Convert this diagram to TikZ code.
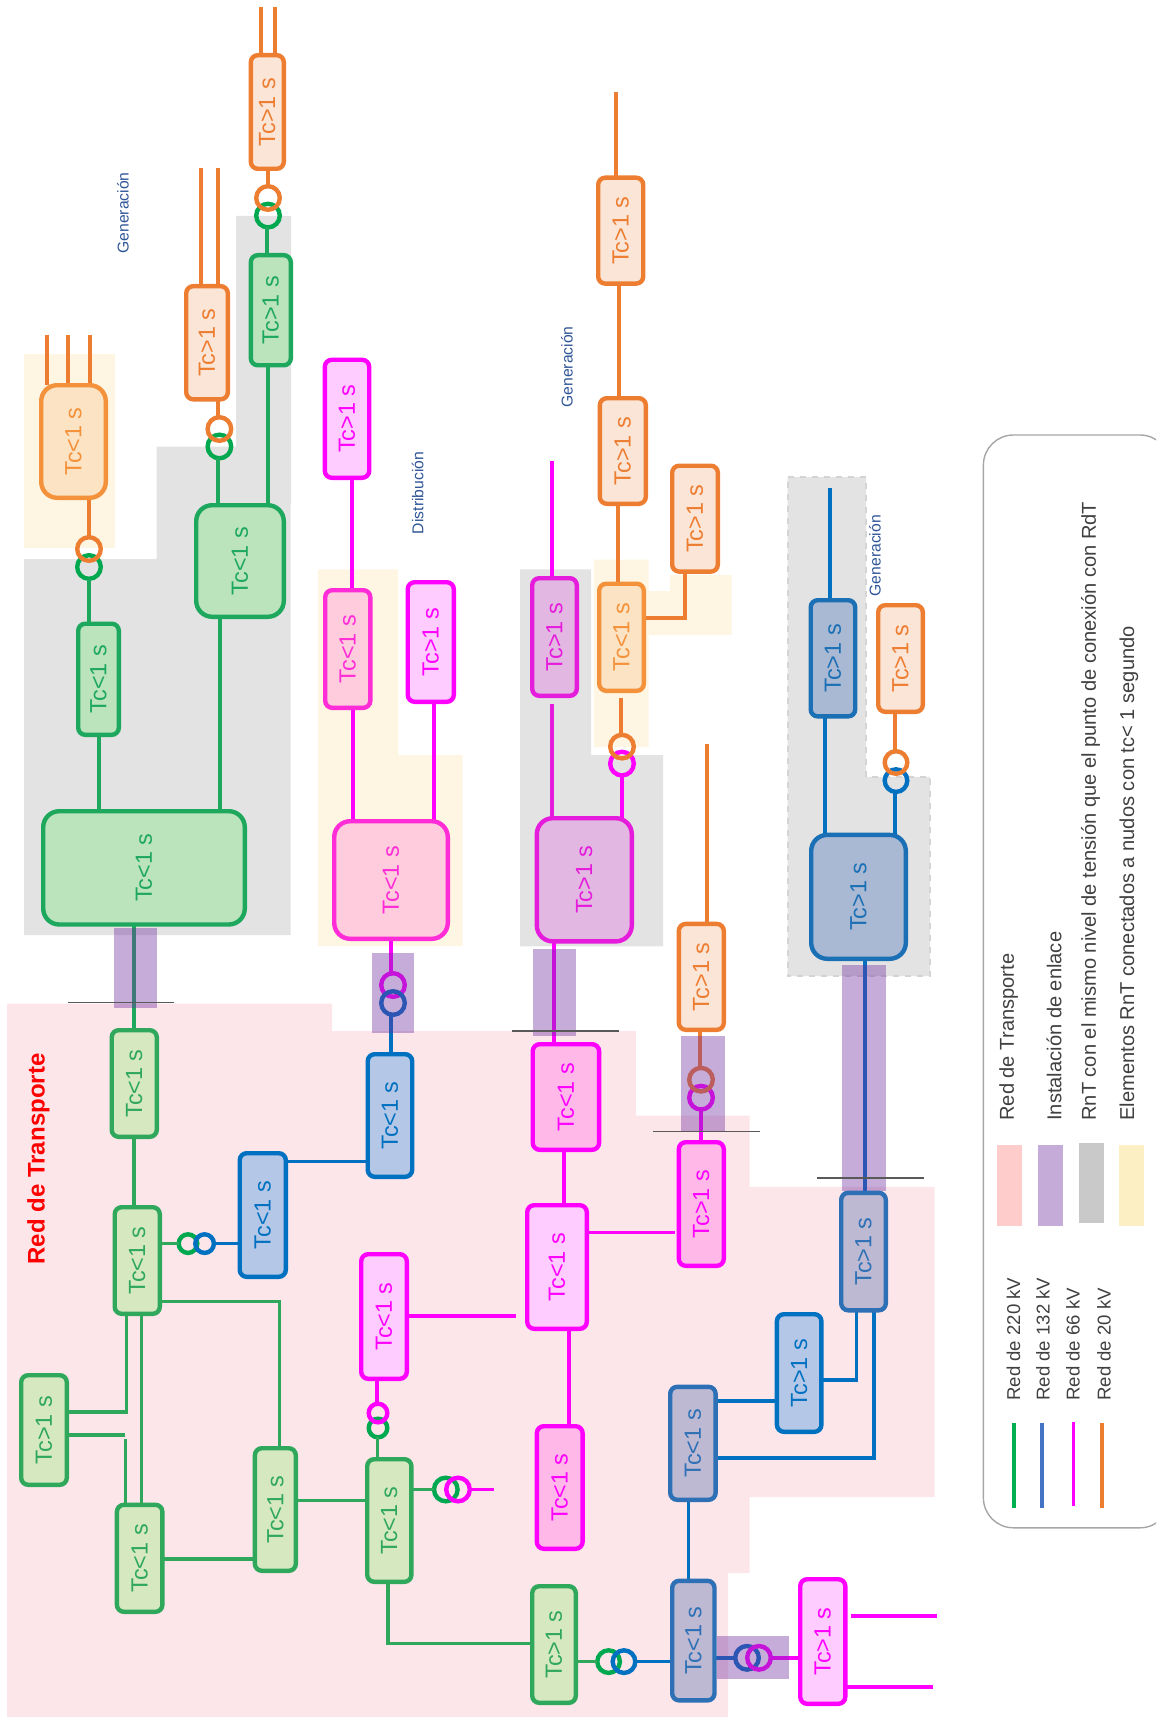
\documentclass[tikz,border=0pt]{standalone}
\usepackage{graphicx}
\usepackage{fontspec}
\setmainfont{Liberation Sans}
\pgfdeclarelayer{bg}\pgfdeclarelayer{conn}\pgfdeclarelayer{over}
\pgfsetlayers{bg,conn,over,main}
\definecolor{cgreen}{HTML}{1EA85E}\definecolor{cgreenb}{HTML}{2FA85C}
\definecolor{corange}{HTML}{ED7D31}\definecolor{coranb}{HTML}{F4923B}
\definecolor{cmag}{HTML}{FF00FF}\definecolor{cmagb}{HTML}{FF2CD8}\definecolor{cmagc}{HTML}{E61CDC}
\definecolor{cblue}{HTML}{0070C0}\definecolor{cblueb}{HTML}{2E70B5}\definecolor{cbluec}{HTML}{1B70B5}
\definecolor{cpink}{HTML}{FCE6EA}\definecolor{cgray}{HTML}{E3E3E3}\definecolor{cyel}{HTML}{FEF6E2}
\definecolor{cgrayd}{HTML}{D4D4D4}
\definecolor{cpurp}{HTML}{7030A0}\definecolor{clab}{HTML}{2F5597}
\definecolor{fgA}{HTML}{BBE4BC}\definecolor{fgB}{HTML}{D5E8C0}\definecolor{foA}{HTML}{FBE5D6}\definecolor{foB}{HTML}{FBE3C4}
\definecolor{fmA}{HTML}{FFCCFF}\definecolor{fmB}{HTML}{FFCCDD}\definecolor{fmC}{HTML}{E2B8E2}\definecolor{fmD}{HTML}{FFB8E8}
\definecolor{fbA}{HTML}{B4C7E7}\definecolor{fbB}{HTML}{BDB9D3}\definecolor{fbC}{HTML}{A9B8D3}
\definecolor{rgreen}{HTML}{00A850}\definecolor{cbar}{HTML}{595959}\definecolor{ctxt}{HTML}{404040}
\definecolor{cedge}{HTML}{A6A6A6}\definecolor{lg}{HTML}{00B050}\definecolor{lb}{HTML}{4472C4}
\definecolor{s1}{HTML}{FFCCCC}\definecolor{s2}{HTML}{C5ACD8}\definecolor{s3}{HTML}{C9C9C9}\definecolor{s4}{HTML}{FDEFC4}
\tikzset{
 basebox/.style={rectangle,rounded corners=3.5pt,line width=2.2pt,inner sep=0pt,outer sep=0pt,font=\fontsize{11.7}{14}\selectfont},
 bigbox/.style={rounded corners=8pt},
 boxgA/.style={basebox,draw=cgreen,fill=fgA,text=cgreen},
 boxgB/.style={basebox,draw=cgreenb,fill=fgB,text=cgreenb},
 boxoA/.style={basebox,draw=corange,fill=foA,text=corange},
 boxoB/.style={basebox,draw=coranb,fill=foB,text=coranb},
 boxmA/.style={basebox,draw=cmag,fill=fmA,text=cmag},
 boxmB/.style={basebox,draw=cmagb,fill=fmB,text=cmagb},
 boxmC/.style={basebox,draw=cmagc,fill=fmC,text=cmagc},
 boxmD/.style={basebox,draw=cmag,fill=fmD,text=cmag},
 boxbA/.style={basebox,draw=cblue,fill=fbA,text=cblue},
 boxbB/.style={basebox,draw=cblueb,fill=fbB,text=cblueb},
 boxbC/.style={basebox,draw=cbluec,fill=fbC,text=cbluec},
 wg/.style={draw=cgreen,line width=2pt},
 wgb/.style={draw=cgreenb,line width=1.7pt},
 wo/.style={draw=corange,line width=2pt},
 wm/.style={draw=cmag,line width=2pt},
 wb/.style={draw=cblue,line width=1.7pt},
 ringg/.style={circle,draw=rgreen,inner sep=0pt,outer sep=0pt,line width=2.2pt},
 ringo/.style={circle,draw=corange,inner sep=0pt,outer sep=0pt,line width=2.2pt},
 ringm/.style={circle,draw=cmag,inner sep=0pt,outer sep=0pt,line width=2.2pt},
 ringb/.style={circle,draw=cblue,inner sep=0pt,outer sep=0pt,line width=2.2pt},
 purp/.style={fill=cpurp,fill opacity=0.4,draw=none},
 bar/.style={draw=cbar,line width=0.8pt},
 genlab/.style={text=clab,font=\fontsize{7.85}{9}\selectfont,inner sep=0pt},
 leglab/.style={text=ctxt,font=\fontsize{10.05}{12}\selectfont,inner sep=0pt,rotate=90,anchor=west},
 leglabv/.style={text=ctxt,font=\fontsize{9.3}{11}\selectfont,inner sep=0pt,rotate=90,anchor=west},
 legline/.style={line width=1.85pt}
}
\newcommand\bx[7]{\node[#6,minimum width={(#3-#2-4.4)*0.5pt},minimum height={(#5-#4-4.4)*0.5pt}] (#1) at ({(#2+#3)/2},{(#4+#5)/2}) {\rotatebox{90}{#7}};}
\newcommand\rng[5]{\node[#5,minimum size={(2*#4-4.4)*0.5pt}] (#1) at (#2,#3) {};}
\newcommand\vcon[4]{\draw[#1] (#2,0 |- #3) -- (#2,0 |- #4);}
\newcommand\hcon[4]{\draw[#1] (#3 |- 0,#2) -- (#4 |- 0,#2);}
\begin{document}
\begin{tikzpicture}[x=0.5pt,y=-0.5pt]
\useasboundingbox (0,0) rectangle (1156,1717);
\clip (0,0) rectangle (1156,1717);
% ---------- boxes
\bx{O1}{248.6}{286}{53}{171}{boxoA}{Tc>1 s}
\bx{G1}{248.6}{293}{253}{367.5}{boxgA}{Tc>1 s}
\bx{G2}{194}{286}{503}{619}{boxgA,bigbox}{Tc<1 s}
\bx{O2}{184}{230}{284}{401.5}{boxoA}{Tc>1 s}
\bx{O3}{39}{108}{383}{500}{boxoB,bigbox}{Tc<1 s}
\bx{G3}{76}{121}{621.5}{737}{boxgA}{Tc<1 s}
\bx{G4}{41}{247}{809}{926.7}{boxgA,bigbox}{Tc<1 s}
\bx{M1}{322.6}{371.4}{357.6}{480}{boxmA}{Tc>1 s}
\bx{M2}{323}{372.5}{588}{710}{boxmB}{Tc<1 s}
\bx{M3}{405.5}{456}{580}{704}{boxmA}{Tc>1 s}
\bx{M4}{332}{450}{819}{941}{boxmB,bigbox}{Tc<1 s}
\bx{B1}{365.5}{414.4}{1052}{1179}{boxbA}{Tc<1 s}
\bx{B2}{237.5}{288}{1151}{1279}{boxbA}{Tc<1 s}
\bx{G5}{109.5}{159}{1028}{1139}{boxgB}{Tc<1 s}
\bx{G6}{112.5}{162}{1205}{1316}{boxgB}{Tc<1 s}
\bx{G7}{19}{69}{1373}{1487}{boxgB}{Tc>1 s}
\bx{G8}{252.7}{298}{1446}{1573}{boxgB}{Tc<1 s}
\bx{G9}{114.7}{164.6}{1502.6}{1614}{boxgB}{Tc<1 s}
\bx{G10}{365}{413.6}{1457}{1584}{boxgB}{Tc<1 s}
\bx{G11}{530}{578}{1584}{1705}{boxgB}{Tc>1 s}
\bx{M5}{359}{409}{1252}{1381}{boxmA}{Tc<1 s}
\bx{M6}{525}{589}{1203}{1331}{boxmA}{Tc<1 s}
\bx{M7}{530}{579}{576}{698}{boxmC}{Tc>1 s}
\bx{M8}{534.6}{634}{816}{943.6}{boxmC,bigbox}{Tc>1 s}
\bx{M9}{530.5}{601.3}{1042}{1152}{boxmD}{Tc<1 s}
\bx{M10}{676.6}{726}{1140}{1268}{boxmD}{Tc>1 s}
\bx{M11}{534.6}{584.8}{1424}{1551}{boxmD}{Tc<1 s}
\bx{M12}{798}{847.5}{1577}{1706}{boxmA}{Tc>1 s}
\bx{O5}{597}{646}{581.5}{693}{boxoB}{Tc<1 s}
\bx{O6}{670}{720}{463.5}{573.8}{boxoA}{Tc>1 s}
\bx{O7}{597.6}{648}{396}{506}{boxoA}{Tc>1 s}
\bx{O8}{596}{645.4}{175.5}{285.8}{boxoA}{Tc>1 s}
\bx{O9}{676.6}{726}{921.7}{1032}{boxoA}{Tc>1 s}
\bx{O4}{876}{925}{603}{714}{boxoA}{Tc>1 s}
\bx{B3}{670}{716.7}{1578.6}{1702.6}{boxbB}{Tc<1 s}
\bx{B4}{668}{717.8}{1384.6}{1502}{boxbB}{Tc<1 s}
\bx{B5}{774.7}{823.6}{1312}{1434}{boxbA}{Tc>1 s}
\bx{B6}{839}{888}{1190.6}{1312.5}{boxbB}{Tc>1 s}
\bx{B7}{809}{908}{832.7}{961}{boxbC,bigbox}{Tc>1 s}
\bx{B8}{808.5}{857.4}{598}{718.6}{boxbC}{Tc>1 s}
% ---------- labels
\node[genlab,rotate=90] (L1) at (123,213) {Generación};
\node[genlab,rotate=90] (L2) at (417.7,493) {Distribución};
\node[genlab,rotate=90] (L3) at (567,367) {Generación};
\node[genlab,rotate=90] (L4) at (875,555.7) {Generación};
\node[rotate=90,text=red,inner sep=0pt,font=\fontsize{12}{14}\selectfont\bfseries] (L5) at (38.5,1159) {Red de Transporte};
% ---------- background areas
\begin{pgfonlayer}{bg}
\fill[cpink] (7,1003.7) -- (332,1003.7) -- (332,1031) -- (635.8,1031) -- (635.8,1115.7) -- (749.7,1115.7) -- (749.7,1186.8) -- (934.5,1186.8) -- (934.5,1497) -- (749.7,1497) -- (749.7,1573) -- (728,1573) -- (728,1717) -- (7,1717) -- cycle;
\fill[cyel] (24,354) rectangle (114.7,547.5);
\fill[cgray] (24,559) -- (156.5,559) -- (156.5,446.5) -- (236,446.5) -- (236,216) -- (291,216) -- (291,504.6) -- (290.5,504.6) -- (290.5,935) -- (24,935) -- cycle;
\fill[cyel] (318,569.4) -- (398,569.4) -- (398,755) -- (462.5,755) -- (462.5,946) -- (318,946) -- cycle;
\fill[cgray] (520,569.4) -- (591,569.4) -- (591,755) -- (663,755) -- (663,946.3) -- (520,946.3) -- cycle;
\fill[cyel] (594,559.5) -- (648.7,559.5) -- (648.7,591) -- (670,591) -- (670,575) -- (731.7,575) -- (731.7,635) -- (648.7,635) -- (648.7,747) -- (594,747) -- cycle;
\filldraw[fill=cgray,draw=cgrayd,dashed,line width=1pt] (787.6,477) -- (866,477) -- (866,776.8) -- (930,776.8) -- (930,976) -- (787.6,976) -- cycle;
\end{pgfonlayer}
% ---------- connectors
\begin{pgfonlayer}{conn}
\rng{r1g}{268}{215.6}{14}{ringg}\rng{r1o}{268}{198}{14}{ringo}
\rng{r2g}{219.4}{446.5}{14}{ringg}\rng{r2o}{219.4}{429}{14}{ringo}
\rng{r3g}{89}{567}{14}{ringg}\rng{r3o}{89}{549}{14}{ringo}
\rng{r4m}{393}{985}{14}{ringm}\rng{r4b}{393}{1003}{14}{ringb}
\rng{r5g}{188}{1243.6}{11.5}{ringg}\rng{r5b}{204.6}{1243.6}{11.5}{ringb}
\rng{r6g}{378}{1428}{11.5}{ringg}\rng{r6m}{378}{1413}{11.5}{ringm}
\rng{r7g}{445.8}{1489.5}{14}{ringg}\rng{r7m}{458}{1489.5}{14}{ringm}
\rng{r8g}{608.6}{1661.6}{13.5}{ringg}\rng{r8b}{624}{1661.6}{13.5}{ringb}
\rng{r9b}{747}{1657.8}{14}{ringb}\rng{r9m}{759}{1657.8}{14}{ringm}
\rng{r10m}{622}{763.6}{14}{ringm}\rng{r10o}{622}{746.6}{14}{ringo}
\rng{r11m}{701}{1097.7}{14}{ringm}\rng{r11o}{701}{1079.7}{14}{ringo}
\rng{r12b}{896}{780.6}{13.5}{ringb}\rng{r12o}{896}{762.5}{13.5}{ringo}
% top-left group
\coordinate (e1) at (261,6.6);\coordinate (e2) at (275,6.6);
\vcon{wo}{261}{e1}{O1.north}\vcon{wo}{275}{e2}{O1.north}
\vcon{wo}{267.5}{O1.south}{r1o.north}\vcon{wg}{267}{r1g.south}{G1.north}
\vcon{wg}{267.5}{G1.south}{G2.north}
\coordinate (e3) at (200.5,168);\coordinate (e4) at (218,168);
\vcon{wo}{200.5}{e3}{O2.north}\vcon{wo}{218}{e4}{O2.north}
\vcon{wo}{218.3}{O2.south}{r2o.north}\vcon{wg}{218}{r2g.south}{G2.north}
\vcon{wg}{220}{G2.south}{G4.north}
\coordinate (e5) at (47.4,334.6);\coordinate (e6) at (67.7,334.6);\coordinate (e7) at (90.3,334.6);
\vcon{wo}{47.4}{e5}{O3.north}\vcon{wo}{67.7}{e6}{O3.north}\vcon{wo}{90.3}{e7}{O3.north}
\vcon{wo}{89}{O3.south}{r3o.north}\vcon{wg}{89}{r3g.south}{G3.north}
\vcon{wg}{99}{G3.south}{G4.north}
\vcon{wg}{134}{G4.south}{G5.north}
\vcon{wgb}{134}{G5.south}{G6.north}
% magenta distribution
\vcon{wm}{352}{M1.south}{M2.north}\vcon{wm}{353}{M2.south}{M4.north}\vcon{wm}{433.6}{M3.south}{M4.north}
\vcon{wm}{391}{M4.south}{r4m.north}\vcon{wb}{391}{r4b.south}{B1.north}
\hcon{wb}{1161.6}{B2.east}{B1.west}
\hcon{wgb}{1243.6}{G6.east}{r5g.west}\hcon{wb}{1243.6}{r5b.east}{B2.west}
% lower green mesh
\draw[wgb] (G6.east |- 0,1301.5) -- (279.7,1301.5) -- (279.7,0 |- G8.north);
\coordinate (e8) at (125,1435);\coordinate (e9) at (125.4,1439);
\draw[wgb] (126.5,0 |- G6.south) -- (126.5,1412) -- (G7.east |- 0,1412);
\draw[wgb] (G7.east |- 0,1435) -- (e8);
\draw[wgb] (e9) -- (125.4,0 |- G9.north);
\vcon{wgb}{141.7}{G6.south}{G9.north}
\hcon{wgb}{1559}{G9.east}{G8.west}
\hcon{wgb}{1500.4}{G8.east}{G10.west}
\vcon{wgb}{377.4}{r6g.south}{G10.north}\vcon{wm}{377}{M5.south}{r6m.north}
\hcon{wgb}{1489.5}{G10.east}{r7g.west}
\coordinate (e10) at (494,1489.5);
\draw[wm,line width=1.4pt] (r7m.east) -- (e10);
\draw[wgb] (388,0 |- G10.south) -- (388,1643.6) -- (G11.west |- 0,1643.6);
\coordinate (e11) at (515.7,1316);
\draw[wm] (M5.east |- e11) -- (e11);
\hcon{wgb}{1661.6}{G11.east}{r8g.west}
\hcon{wb}{1661.6}{r8b.east}{B3.west}
\vcon{wb}{688.7}{B4.south}{B3.north}
\hcon{wb}{1401}{B4.east}{B5.west}
\hcon{wb}{1657.8}{B3.east}{r9b.west}\hcon{wm}{1657.8}{r9m.east}{M12.west}
\coordinate (e12) at (851,1615.7);\coordinate (e13) at (936.7,1615.7);\coordinate (e14) at (932.7,1687.3);
\draw[wm] (e12) -- (e13);
\draw[wm] (M12.east |- e14) -- (e14);
\draw[wb] (B5.east |- 0,1380) -- (856.6,1380) -- (856.6,0 |- B6.south);
\draw[wb] (B4.east |- 0,1457.8) -- (874,1457.8) -- (874,0 |- B6.south);
\vcon{wb}{865}{B7.south}{B6.north}
\coordinate (e15) at (830,488);
\vcon{wb}{830}{e15}{B8.north}
\vcon{wb}{825}{B8.south}{B7.north}
\vcon{wo}{894.5}{O4.south}{r12o.north}\vcon{wb}{895}{r12b.south}{B7.north}
% centre column
\coordinate (e16) at (551.6,461);\coordinate (e17) at (551.6,704);
\vcon{wm}{551.6}{e16}{M7.north}
\draw[wm,draw=cmagc] (e17) -- (551.6,0 |- M8.north);
\vcon{wm}{621.5}{r10m.south}{M8.north}
\coordinate (e18) at (621,698);
\draw[wo] (e18) -- (621,0 |- r10o.north);
\draw[wo] (O5.east |- 0,617.7) -- (685,617.7) -- (685,0 |- O6.south);
\vcon{wo}{618}{O7.south}{O5.north}
\vcon{wo}{618.6}{O8.south}{O7.north}
\coordinate (e19) at (615.6,91.6);
\vcon{wo}{615.6}{e19}{O8.north}
\vcon{wm}{553.8}{M8.south}{M9.north}
\vcon{wm}{564}{M9.south}{M6.north}
\vcon{wm}{568.6}{M6.south}{M11.north}
\coordinate (e20) at (674.8,1232.7);
\draw[wm,line width=1.4pt] (M6.east |- e20) -- (e20);
\vcon{wm}{701}{r11m.south}{M10.north}
\vcon{wo}{700}{O9.south}{r11o.north}
\coordinate (e21) at (707,744);
\vcon{wo}{707}{e21}{O9.north}
\end{pgfonlayer}
% ---------- link installations
\begin{pgfonlayer}{over}
\fill[purp] (113.6,927.8) rectangle (156.5,1007.5);
\fill[purp] (371.5,953) rectangle (414.4,1032.7);
\fill[purp] (532.7,948.5) rectangle (576,1036);
\fill[purp] (681,1036) rectangle (725,1131.6);
\fill[purp] (842,965) rectangle (886,1190.6);
\fill[purp] (716.7,1636) rectangle (789.4,1678.6);
\draw[bar] (68.4,1002.6) -- (174.3,1002.6);
\draw[bar] (512.4,1031) -- (619,1031);
\draw[bar] (653,1131.6) -- (759.6,1131.6);
\draw[bar] (817,1178) -- (923.5,1178);
\end{pgfonlayer}
% ---------- legend
\draw[draw=cedge,line width=0.7pt,rounded corners=15pt] (983.4,435) rectangle (1170,1527.8);
\draw[legline,draw=lg] (1013.9,1423) -- (1013.9,1507.5);
\draw[legline,draw=lb] (1042,1423) -- (1042,1507.5);
\draw[legline,draw=cmag] (1073.4,1422) -- (1073.4,1506);
\draw[legline,draw=corange] (1101.7,1423) -- (1101.7,1507.5);
\node[leglabv] (t1) at (1013.5,1401) {Red de 220 kV};
\node[leglabv] (t2) at (1043,1401) {Red de 132 kV};
\node[leglabv] (t3) at (1073,1401) {Red de 66 kV};
\node[leglabv] (t4) at (1104,1401) {Red de 20 kV};
\fill[s1] (997,1144.7) rectangle (1021.6,1226);
\fill[s2] (1038,1144.7) rectangle (1062.7,1226);
\fill[s3] (1079,1143) rectangle (1103.5,1223);
\fill[s4] (1119,1144.7) rectangle (1143.6,1226);
\node[leglab] (t5) at (1008.7,1121) {Red de Transporte};
\node[leglab] (t6) at (1054,1121) {Instalación de enlace};
\node[leglab] (t7) at (1090.6,1121) {RnT con el mismo nivel de tensión que el punto de conexión con RdT};
\node[leglab] (t8) at (1129,1121) {Elementos RnT conectados a nudos con tc< 1 segundo};
\end{tikzpicture}
\end{document}
